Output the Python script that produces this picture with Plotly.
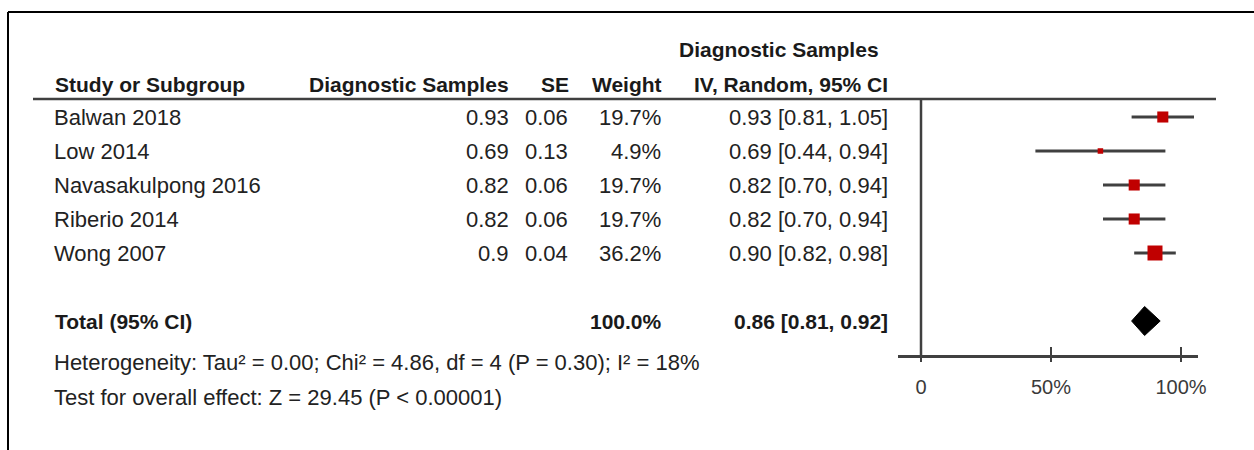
import plotly.graph_objects as go

# ---------------- data ----------------
STUDIES = ["Balwan 2018", "Low 2014", "Navasakulpong 2016", "Riberio 2014", "Wong 2007"]
DIAG_SAMPLES = [0.93, 0.69, 0.82, 0.82, 0.9]
SE = [0.06, 0.13, 0.06, 0.06, 0.04]
WEIGHT = [19.7, 4.9, 19.7, 19.7, 36.2]
CI_LOW = [0.81, 0.44, 0.70, 0.70, 0.82]
CI_HIGH = [1.05, 0.94, 0.94, 0.94, 0.98]

TOTAL_LABEL = "Total (95% CI)"
TOTAL_WEIGHT = 100.0
TOTAL_EST = 0.86
TOTAL_LOW = 0.81
TOTAL_HIGH = 0.92

HET_TEXT = "Heterogeneity: Tau² = 0.00; Chi² = 4.86, df = 4 (P = 0.30); I² = 18%"
TEST_TEXT = "Test for overall effect: Z = 29.45 (P < 0.00001)"

HEADERS = ["Study or Subgroup", "Diagnostic Samples", "SE", "Weight", "IV, Random, 95% CI"]
HEADER_TOP = "Diagnostic Samples"

TICK_VALS = [0, 0.5, 1.0]
TICK_LABELS = ["0", "50%", "100%"]

# ---------------- layout geometry (pixels) ----------------
W, H = 1254, 450
ROW0_PX, ROW_STEP = 117, 34
X0_PX, X1_PX = 921, 1181
AX_L_PX, AX_R_PX = 898, 1198
AXIS_Y_PX = 356
TOP_LINE_Y_PX = 99


def px(x):
    return x / W


def py(y):
    return 1 - y / H


def row_of(ypix):
    return (ypix - ROW0_PX) / ROW_STEP


scale = X1_PX - X0_PX
x_range = [(AX_L_PX - X0_PX) / scale, (AX_R_PX - X0_PX) / scale]
y_range = [row_of(H), row_of(0)]

n = len(STUDIES)
rows = list(range(n))
total_row = n + 1

FONT = "Liberation Sans, Arial, sans-serif"
BODY_COLOR = "#222222"
BOLD_COLOR = "#1a1a1a"
LINE_COLOR = "#404040"
RED = "#c00000"

fig = go.Figure()

# confidence-interval whiskers
cx, cy = [], []
for lo, hi, r in zip(CI_LOW, CI_HIGH, rows):
    cx += [lo, hi, None]
    cy += [r, r, None]
fig.add_trace(go.Scatter(x=cx, y=cy, mode="lines",
                         line=dict(color=LINE_COLOR, width=3),
                         hoverinfo="skip", showlegend=False))

# weight-scaled squares
max_w = max(WEIGHT)
sizes = [15 * (w / max_w) ** 0.5 for w in WEIGHT]
fig.add_trace(go.Scatter(x=DIAG_SAMPLES, y=rows, mode="markers",
                         marker=dict(symbol="square", size=sizes, color=RED, opacity=1,
                                     line=dict(width=0)),
                         showlegend=False))

# pooled diamond
h = 14.5 / ROW_STEP
fig.add_trace(go.Scatter(
    x=[TOTAL_LOW, TOTAL_EST, TOTAL_HIGH, TOTAL_EST, TOTAL_LOW],
    y=[total_row, total_row - h, total_row, total_row + h, total_row],
    mode="lines", fill="toself", fillcolor="black",
    line=dict(color="black", width=1), showlegend=False, hoverinfo="skip"))

annotations = []


def txt(x_px, r, text, anchor="left", bold=False, size=22, color=None):
    annotations.append(dict(
        x=px(x_px), xref="paper", y=r, yref="y", text=text, showarrow=False,
        xanchor=anchor, yanchor="middle",
        font=dict(family=FONT, size=size,
                  color=color or (BOLD_COLOR if bold else BODY_COLOR),
                  weight="bold" if bold else "normal")))


hdr_row = row_of(84)
txt(53, hdr_row, HEADERS[0], "left", True, 21)
txt(511, hdr_row, HEADERS[1], "right", True, 21)
txt(571, hdr_row, HEADERS[2], "right", True, 21)
txt(664, hdr_row, HEADERS[3], "right", True, 21)
txt(890, hdr_row, HEADERS[4], "right", True, 21)
txt(881, row_of(49), HEADER_TOP, "right", True, 21)

for i, r in enumerate(rows):
    txt(52, r, STUDIES[i], "left")
    txt(511, r, f"{DIAG_SAMPLES[i]:g}", "right")
    txt(570, r, f"{SE[i]:.2f}", "right")
    txt(663, r, f"{WEIGHT[i]:.1f}%", "right")
    txt(890, r, f"{DIAG_SAMPLES[i]:.2f} [{CI_LOW[i]:.2f}, {CI_HIGH[i]:.2f}]", "right")

txt(53, total_row, TOTAL_LABEL, "left", True, 21)
txt(664, total_row, f"{TOTAL_WEIGHT:.1f}%", "right", True, 21)
txt(890, total_row, f"{TOTAL_EST:.2f} [{TOTAL_LOW:.2f}, {TOTAL_HIGH:.2f}]", "right", True, 21)

txt(52, row_of(362), HET_TEXT, "left")
txt(52, row_of(397), TEST_TEXT, "left")

shapes = [
    # outer frame (left and top edges)
    dict(type="line", xref="paper", yref="paper", x0=px(8), x1=px(8), y0=py(12), y1=0,
         line=dict(color="black", width=2)),
    dict(type="line", xref="paper", yref="paper", x0=px(8), x1=1, y0=py(12), y1=py(12),
         line=dict(color="black", width=2)),
    # table header underline
    dict(type="line", xref="paper", yref="paper", x0=px(33), x1=px(AX_L_PX), y0=py(TOP_LINE_Y_PX),
         y1=py(TOP_LINE_Y_PX), line=dict(color=LINE_COLOR, width=2.5)),
    # plot top line
    dict(type="line", xref="paper", yref="paper", x0=px(AX_L_PX), x1=px(1216), y0=py(TOP_LINE_Y_PX),
         y1=py(TOP_LINE_Y_PX), line=dict(color=LINE_COLOR, width=2.5)),
    # vertical line at 0
    dict(type="line", xref="x", yref="paper", x0=0, x1=0, y0=py(TOP_LINE_Y_PX), y1=py(AXIS_Y_PX),
         line=dict(color=LINE_COLOR, width=2.5)),
]

axis_pos = py(AXIS_Y_PX)
common_x = dict(domain=[px(AX_L_PX), px(AX_R_PX)], range=x_range, anchor="free",
                position=axis_pos, showgrid=False, zeroline=False, fixedrange=True,
                automargin=False)

fig.update_layout(
    width=W, height=H, autosize=False,
    margin=dict(l=0, r=0, t=0, b=0, pad=0, autoexpand=False),
    paper_bgcolor="white", plot_bgcolor="rgba(0,0,0,0)",
    showlegend=False,
    xaxis=dict(**common_x, showline=True, linecolor=LINE_COLOR, linewidth=2.5,
               ticks="outside", ticklen=4, tickwidth=2, tickcolor=LINE_COLOR,
               tickvals=TICK_VALS, ticktext=TICK_LABELS, ticklabelstandoff=8,
               tickfont=dict(family=FONT, size=20, color="#3a3a3a")),
    xaxis2=dict(**common_x, overlaying="x", matches="x", showline=False,
                ticks="inside", ticklen=9, tickwidth=2, tickcolor=LINE_COLOR,
                tickvals=TICK_VALS, showticklabels=False),
    yaxis=dict(range=y_range, domain=[0, 1], visible=False, fixedrange=True, automargin=False),
    annotations=annotations,
    shapes=shapes,
)

fig.add_trace(go.Scatter(x=[None], y=[None], xaxis="x2", yaxis="y", showlegend=False))

fig.write_html("out.html")
